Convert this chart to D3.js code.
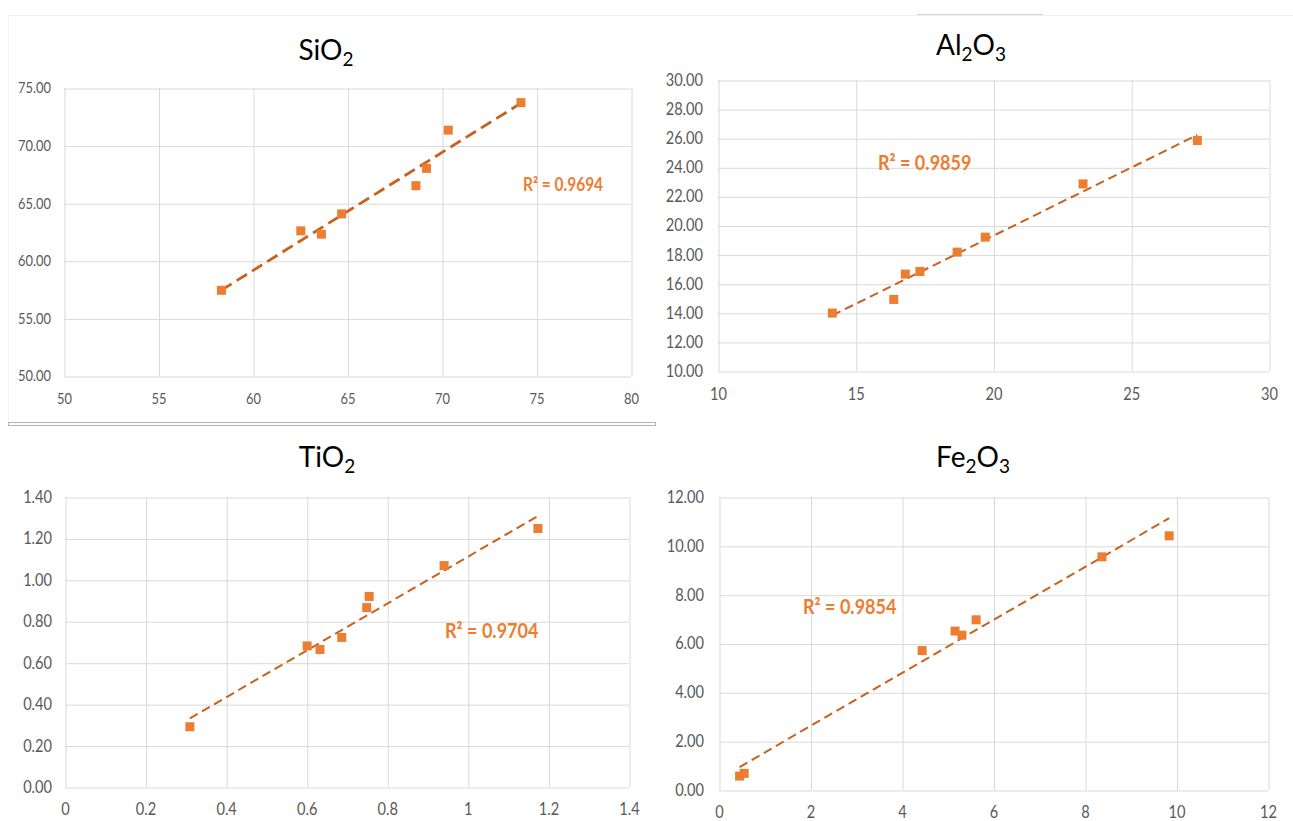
<!DOCTYPE html>
<html>
<head>
<meta charset="utf-8">
<script src="https://cdn.jsdelivr.net/npm/d3@7"></script>
<style>
  html, body { margin: 0; padding: 0; background: #ffffff; }
  svg { display: block; }
</style>
</head>
<body>
<svg id="chart" width="1293" height="821"></svg>
<script>
// ---------------- DATA ----------------
const titles = ["SiO2", "Al2O3", "TiO2", "Fe2O3"];
const r2Labels = ["R² = 0.9694", "R² = 0.9859", "R² = 0.9704", "R² = 0.9854"];

const sio2X = [58.33, 62.53, 63.62, 64.69, 68.62, 69.18, 70.33, 74.18];
const sio2Y = [57.44, 62.60, 62.31, 64.07, 66.52, 68.02, 71.34, 73.73];
const sio2XTicks = [50, 55, 60, 65, 70, 75, 80];
const sio2YTicks = [50, 55, 60, 65, 70, 75];

const al2o3X = [14.15, 16.38, 16.80, 17.33, 18.68, 19.70, 23.25, 27.40];
const al2o3Y = [13.98, 14.92, 16.66, 16.84, 18.17, 19.20, 22.86, 25.84];
const al2o3XTicks = [10, 15, 20, 25, 30];
const al2o3YTicks = [10, 12, 14, 16, 18, 20, 22, 24, 26, 28, 30];

const tio2X = [0.310, 0.601, 0.633, 0.687, 0.749, 0.755, 0.941, 1.174];
const tio2Y = [0.291, 0.681, 0.664, 0.722, 0.866, 0.920, 1.069, 1.248];
const tio2XTicks = [0, 0.2, 0.4, 0.6, 0.8, 1, 1.2, 1.4];
const tio2YTicks = [0, 0.2, 0.4, 0.6, 0.8, 1.0, 1.2, 1.4];

const fe2o3X = [0.45, 0.55, 4.44, 5.16, 5.31, 5.62, 8.37, 9.84];
const fe2o3Y = [0.57, 0.68, 5.71, 6.51, 6.34, 6.97, 9.55, 10.41];
const fe2o3XTicks = [0, 2, 4, 6, 8, 10, 12];
const fe2o3YTicks = [0, 2, 4, 6, 8, 10, 12];

// ---------------- LAYOUT / STYLE ----------------
const layouts = [
  {left: 64, right: 631, top: 88, bottom: 376, titleX: 326, titleY: 60, tickSize: 15, yGap: 13, xLabOff: 23,
   r2X: 523, r2Y: 185, r2Size: 18, lineW: 2.8, dash: "12,6"},
  {left: 718, right: 1269, top: 80, bottom: 371, titleX: 971, titleY: 55, tickSize: 17, yGap: 15, xLabOff: 23,
   r2X: 878, r2Y: 163, r2Size: 21, lineW: 2, dash: "9,5"},
  {left: 65, right: 629, top: 497, bottom: 787, titleX: 327, titleY: 467, tickSize: 17, yGap: 13, xLabOff: 22,
   r2X: 445, r2Y: 631, r2Size: 21, lineW: 2, dash: "9,5"},
  {left: 719, right: 1268, top: 497, bottom: 790, titleX: 973, titleY: 467, tickSize: 17, yGap: 15, xLabOff: 22.5,
   r2X: 803, r2Y: 607, r2Size: 21, lineW: 2, dash: "9,5"}
];

const panels = [
  {x: sio2X, y: sio2Y, xt: sio2XTicks, yt: sio2YTicks},
  {x: al2o3X, y: al2o3Y, xt: al2o3XTicks, yt: al2o3YTicks},
  {x: tio2X, y: tio2Y, xt: tio2XTicks, yt: tio2YTicks},
  {x: fe2o3X, y: fe2o3Y, xt: fe2o3XTicks, yt: fe2o3YTicks}
];

const markerColor = "#ED7D31";
const trendColor = "#C8611E";
const gridColor = "#D9D9D9";
const tickColor = "#595959";
const fontFam = "Lato, 'Open Sans', 'Liberation Sans', sans-serif";
const sx = 0.86; // horizontal condensing for Calibri-like text

const svg = d3.select("#chart");

// page decorations (screenshot edges)
svg.append("line").attr("x1", 8).attr("x2", 1293).attr("y1", 15.5).attr("y2", 15.5)
  .attr("stroke", "#f1f1f1").attr("stroke-width", 1);
svg.append("line").attr("x1", 917).attr("x2", 1043).attr("y1", 14.5).attr("y2", 14.5)
  .attr("stroke", "#d6d6d6").attr("stroke-width", 1);
svg.append("line").attr("x1", 8.5).attr("x2", 8.5).attr("y1", 15).attr("y2", 420)
  .attr("stroke", "#f4f4f4").attr("stroke-width", 1);
svg.append("rect").attr("x", 8.5).attr("y", 422.5).attr("width", 647).attr("height", 3)
  .attr("fill", "none").attr("stroke", "#b4b4b4").attr("stroke-width", 1);

function linreg(xs, ys) {
  const n = xs.length;
  const mx = d3.mean(xs), my = d3.mean(ys);
  let sxy = 0, sxx = 0;
  for (let i = 0; i < n; i++) { sxy += (xs[i] - mx) * (ys[i] - my); sxx += (xs[i] - mx) ** 2; }
  const b = sxy / sxx;
  return {b, a: my - b * mx};
}

panels.forEach((p, i) => {
  const L = layouts[i];
  const x = d3.scaleLinear().domain(d3.extent(p.xt)).range([L.left, L.right]);
  const y = d3.scaleLinear().domain(d3.extent(p.yt)).range([L.bottom, L.top]);
  const g = svg.append("g");

  // horizontal gridlines + y labels via axis
  const yAxis = d3.axisLeft(y).tickValues(p.yt).tickSize(-(L.right - L.left))
    .tickFormat(d3.format(".2f")).tickPadding(L.yGap);
  const ya = g.append("g").attr("transform", `translate(${L.left},0)`).call(yAxis);
  ya.select(".domain").remove();
  ya.selectAll(".tick line").attr("stroke", gridColor).attr("stroke-width", 1)
    .attr("transform", "translate(0,0.5)");
  ya.selectAll(".tick text").attr("fill", tickColor).attr("font-size", L.tickSize)
    .attr("font-family", fontFam)
    .attr("x", -L.yGap / sx).attr("transform", `scale(${sx},1)`);

  // vertical gridlines + x labels
  const xAxis = d3.axisBottom(x).tickValues(p.xt).tickSize(-(L.bottom - L.top))
    .tickFormat(d3.format("~g")).tickPadding(0);
  const xa = g.append("g").attr("transform", `translate(0,${L.bottom})`).call(xAxis);
  xa.select(".domain").remove();
  xa.selectAll(".tick line").attr("stroke", gridColor).attr("stroke-width", 1)
    .attr("transform", "translate(0.5,0)");
  xa.selectAll(".tick text").attr("fill", tickColor).attr("font-size", L.tickSize)
    .attr("font-family", fontFam).attr("y", L.xLabOff).attr("dy", "0.35em")
    .attr("transform", `scale(${sx},1)`);

  // title with subscripts
  const t = g.append("text").attr("x", L.titleX).attr("y", L.titleY)
    .attr("text-anchor", "middle").attr("font-family", fontFam)
    .attr("font-size", 28).attr("fill", "#000");
  const parts = titles[i].match(/[A-Za-z]+|\d+/g);
  let sub = false;
  parts.forEach(part => {
    const isNum = /\d/.test(part);
    const ts = t.append("tspan").text(part);
    if (isNum) { ts.attr("font-size", 19).attr("dy", 6); sub = true; }
    else if (sub) { ts.attr("dy", -6); sub = false; }
  });

  // trendline
  const r = linreg(p.x, p.y);
  const [x0, x1] = d3.extent(p.x);
  g.append("line")
    .attr("x1", x(x0)).attr("y1", y(r.a + r.b * x0))
    .attr("x2", x(x1)).attr("y2", y(r.a + r.b * x1))
    .attr("stroke", trendColor).attr("stroke-width", L.lineW)
    .attr("stroke-dasharray", L.dash);

  // markers
  g.selectAll("rect.pt").data(p.x.map((d, k) => [d, p.y[k]])).enter()
    .append("rect").attr("class", "pt")
    .attr("x", d => x(d[0]) - 4.5).attr("y", d => y(d[1]) - 4.5)
    .attr("width", 9).attr("height", 9)
    .attr("fill", markerColor);

  // R² label
  g.append("text").attr("x", L.r2X / sx).attr("y", L.r2Y).attr("dy", "0.35em")
    .attr("transform", `scale(${sx},1)`)
    .attr("font-family", fontFam).attr("font-weight", "bold")
    .attr("font-size", L.r2Size).attr("fill", markerColor).text(r2Labels[i]);
});
</script>
</body>
</html>
